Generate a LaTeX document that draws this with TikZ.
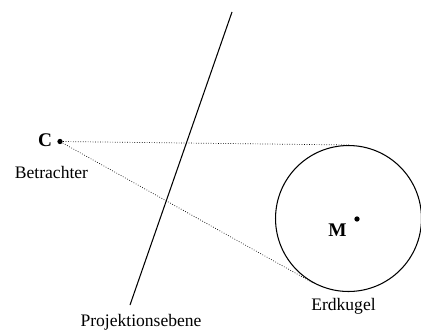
\documentclass[tikz,border=0pt]{standalone}
\usepackage{fontspec}
\setmainfont{Liberation Serif}
\usetikzlibrary{calc}

\begin{document}
\begin{tikzpicture}[x=0.02cm, y=-0.02cm,
				punkt/.style={circle, fill, inner sep=0pt, minimum size=3pt},
				sehstrahl/.style={densely dotted, thin},
				gross/.style={font=\fontsize{11}{13}\selectfont\bfseries},
				font=\fontsize{10}{12}\selectfont, semithick]
				%Bildbereich festlegen
				\useasboundingbox (0,0) rectangle (421,331);
				% Projektionsebene
				\coordinate (ebeneoben) at (232,12);
				\coordinate (ebeneunten) at (130,305);
				\draw (ebeneoben) -- (ebeneunten);
				\node (ebenetext) at (141,322) {Projektionsebene};
				% Erdkugel
				\node[draw, circle, minimum size=2.92cm, inner sep=0pt] (erde) at (348.5,218.5) {};
				\node[punkt] (M) at (357,219) {};
				\node[gross] (Mtext) at (337.5,230) {M};
				\node (erdetext) at (343.5,306) {Erdkugel};
				% Betrachter
				\node[punkt] (C) at (60,141.5) {};
				\node[gross] (Ctext) at (45,140) {C};
				\node (Ctext2) at (51.5,172) {Betrachter};
				% Sehstrahlen (Tangenten)
				\draw[sehstrahl] (C) -- (tangent cs:node=erde,point={(C)},solution=1);
				\draw[sehstrahl] (C) -- (tangent cs:node=erde,point={(C)},solution=2);
			\end{tikzpicture}
\end{document}
